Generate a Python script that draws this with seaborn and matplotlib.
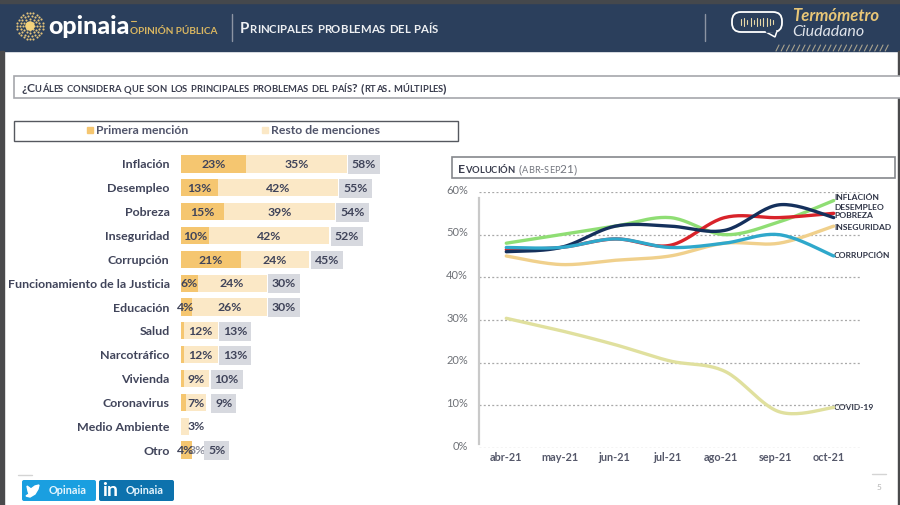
import numpy as np
import pandas as pd
import matplotlib
matplotlib.use("Agg")
import matplotlib.pyplot as plt
import seaborn as sns
from matplotlib.patches import Rectangle, FancyBboxPatch, Polygon, Circle
from matplotlib.transforms import ScaledTranslation

categories = ["Inflación", "Desempleo", "Pobreza", "Inseguridad", "Corrupción",
              "Funcionamiento de la Justicia", "Educación", "Salud", "Narcotráfico",
              "Vivienda", "Coronavirus", "Medio Ambiente", "Otro"]
primera = [23, 13, 15, 10, 21, 6, 4, 1, 1, 1, 2, 0, 4]
resto = [35, 42, 39, 42, 24, 24, 26, 12, 12, 9, 7, 3, 0]
total = [58, 55, 54, 52, 45, 30, 30, 13, 13, 10, 9, None, 5]
label_primera = ["23%", "13%", "15%", "10%", "21%", "6%", "4%", "", "", "", "", "", "4%"]
label_resto = ["35%", "42%", "39%", "42%", "24%", "24%", "26%", "12%", "12%", "9%", "7%", "3%", "3%"]

months = ["abr-21", "may-21", "jun-21", "jul-21", "ago-21", "sep-21", "oct-21"]
inseguridad = [45, 43, 44, 45, 48, 48, 52]
covid = [30.4, 27.5, 24.2, 20.4, 18, 8.5, 9.5]
inflacion = [48, 50, 52, 54, 50, 53, 58]
desempleo = [46.5, 47, 49, 47.5, 54, 54, 55]
pobreza = [46, 47, 52, 52, 51, 57, 54]
corrupcion = [47, 47, 49, 47, 48, 50, 45]

end_labels = ["INFLACIÓN", "DESEMPLEO", "POBREZA", "INSEGURIDAD", "CORRUPCIÓN", "COVID-19"]
end_label_y = [197, 208, 216, 228, 255, 407]

NAVY = "#2b3f5c"
GOLD = "#f5c670"
PALE = "#fbe8c6"
GREY = "#d7d9df"
TEXT = "#40445a"
FONT = "Lato"

sns.set_theme(style="white")
plt.rcParams["font.family"] = [FONT, "DejaVu Sans"]

W, H = 900, 505
fig = plt.figure(figsize=(9, 5.05), dpi=100, facecolor="white")


def pixel_axes(x0, y0, x1, y1, **kw):
    # axes placed by pixel box, y counted from the top
    return fig.add_axes([x0 / W, 1 - y1 / H, (x1 - x0) / W, (y1 - y0) / H], **kw)


# page layer in pixels
bg = pixel_axes(0, 0, W, H, zorder=0)
bg.set_xlim(0, W)
bg.set_ylim(H, 0)
bg.axis("off")


def smallcaps(x, y, s, size, color, weight="bold"):
    # upper case letters big, lower case ones as smaller capitals
    r = fig.canvas.get_renderer()
    for ch in s:
        small = ch.islower()
        t = bg.text(x, y, ch.upper(), fontsize=size * (0.76 if small else 1), color=color,
                    fontweight=weight, va="baseline", ha="left")
        if ch == " ":
            x += size * 0.36
        else:
            x += t.get_window_extent(r).width
    return x


# header
bg.add_patch(Rectangle((0, 0), W, 51, color=NAVY))
bg.add_patch(Rectangle((0, 0), W, 3, color="#45484c"))
bg.add_patch(Rectangle((0, 51), 4, H, color="#4a4a4c"))
bg.add_patch(Rectangle((898, 51), 2, H, color="#4a4a4c"))

# logo sun
for r, n in zip([4, 7, 10, 13], [8, 12, 18, 24]):
    a = np.arange(n) * 2 * np.pi / n
    bg.scatter(30 + r * np.cos(a), 26 + r * np.sin(a), s=2.4, color="#e2c27a", lw=0)
bg.add_patch(Circle((30, 26), 4, color="#f3d27c"))
bg.text(48, 34.5, "opinaia", fontsize=18, fontweight=900, color="white", va="baseline")
bg.text(130, 33.5, "OPINIÓN PÚBLICA", fontsize=7.2, fontweight="bold", color="#d9b661", va="baseline")
bg.plot([131, 136], [21, 21], color="#d9b661", lw=0.8)
bg.plot([232, 232], [14, 41], color="#8c94a3", lw=1)
smallcaps(240, 33, "Principales problemas del país", 10.8, "#eef0f3")
bg.plot([705, 705], [14, 41], color="#8c94a3", lw=1)

# termometro icon
bg.add_patch(FancyBboxPatch((732, 12), 50, 20, boxstyle="round,pad=0,rounding_size=9",
                            fc="none", ec="white", lw=1.3))
bg.add_patch(Polygon([[766, 32], [777, 31], [775, 37]], fc=NAVY, ec="white", lw=1.1))
bg.plot([767, 775], [31.5, 31], color=NAVY, lw=2)
for x, h in zip(np.arange(741, 775, 3.2), [3, 4, 2, 4, 2, 4, 3, 4, 4, 3, 2]):
    bg.plot([x, x], [22 - h, 22 + h], color="#e8d9a8", lw=0.8)
bg.text(792, 21, "Termómetro", fontsize=12, fontweight="bold", style="italic", color="#e8c677", va="baseline")
bg.text(792, 36, "Ciudadano", fontsize=11.5, style="italic", color="#dfe3ea", va="baseline")
for x in np.arange(776, 886, 5.2):
    bg.plot([x, x + 3], [51, 45], color="#a8a28e", lw=0.8)

# question and legend boxes
bg.add_patch(Rectangle((14, 76), 900, 22, fc="white", ec="#a5a7ab", lw=1.2))
smallcaps(21, 92, "¿Cuáles considera que son los principales problemas del país? (rtas. múltiples)", 8.85, "#3a3d4e")
bg.add_patch(Rectangle((14, 120.5), 444, 20, fc="white", ec="#55585f", lw=1))
bg.add_patch(Rectangle((87, 127), 6, 6, color=GOLD))
bg.text(96, 134.5, "Primera mención", fontsize=8.8, fontweight="bold", color="#50546a", va="baseline")
bg.add_patch(Rectangle((262, 127), 6, 6, color=PALE))
bg.text(271, 134.5, "Resto de menciones", fontsize=8.8, fontweight="bold", color="#50546a", va="baseline")

# evolution title box
bg.add_patch(Rectangle((452, 157), 443, 21, fc="white", ec="#85878c", lw=1.2))
x_end = smallcaps(458, 173, "Evolución", 8.9, "#3a3d4e")
smallcaps(x_end + 4, 173, "(abr-sep21)", 8.6, "#73767f", weight="normal")

# stacked bars
bars = pd.DataFrame({"cat": categories, "primera": primera, "resto": resto})
bars["suma"] = bars["primera"] + bars["resto"]
ax = pixel_axes(180.7, 152, 440, 462, zorder=2)
ax.patch.set_alpha(0)
sns.barplot(data=bars, y="cat", x="suma", color=PALE, saturation=1, width=0.72, linewidth=0, ax=ax)
sns.barplot(data=bars, y="cat", x="primera", color=GOLD, saturation=1, width=0.72, linewidth=0, ax=ax)
ax.set_xlim(0, 259.3 / 2.86)
ax.set_ylim(12.5, -0.5)
ax.set_xlabel("")
ax.set_ylabel("")
ax.set_xticks([])
ax.tick_params(axis="y", length=0, pad=8)
ax.set_yticks(range(len(categories)), categories, fontsize=8.9, fontweight="bold", color=TEXT)
sns.despine(ax=ax, left=True, bottom=True)

for i in range(len(categories)):
    # narrow bars push their labels off centre
    lab1_x = primera[i] / 2 if primera[i] >= 6 else 1.7
    if label_primera[i]:
        ax.text(lab1_x, i + 0.03, label_primera[i], ha="center", va="center",
                fontsize=8.8, fontweight="bold", color=TEXT)
    lab2_x = primera[i] + resto[i] / 2
    if categories[i] == "Medio Ambiente":
        lab2_x = 5.4
    if categories[i] == "Otro":
        lab2_x = 5.7
    ax.text(lab2_x, i + 0.03, label_resto[i], ha="center", va="center",
            fontsize=8.8, fontweight="bold", color=TEXT, alpha=0.6 if categories[i] == "Otro" else 1)
    if total[i] is not None:
        x_box = primera[i] + resto[i] + 1.1 if categories[i] != "Otro" else 7.6
        ax.text(x_box + 5, i + 0.03, f"{total[i]}%", ha="center", va="center",
                fontsize=8.8, fontweight="bold", color=TEXT,
                bbox=dict(boxstyle="square,pad=0.32", fc=GREY, ec="none"))

# evolution lines
line_colors = {"Inseguridad": "#f0d08c", "COVID-19": "#e0e09e", "Inflación": "#8fde74",
               "Desempleo": "#d8232a", "Pobreza": "#14305c", "Corrupción": "#2fa8cb"}
series = {"Inseguridad": inseguridad, "COVID-19": covid, "Inflación": inflacion,
          "Desempleo": desempleo, "Pobreza": pobreza, "Corrupción": corrupcion}
evo = pd.DataFrame(series, index=months).rename_axis("mes").reset_index()
evo = evo.melt(id_vars="mes", var_name="serie", value_name="valor")
ax2 = pixel_axes(479, 192, 861, 448, zorder=2)
ax2.patch.set_alpha(0)
sns.lineplot(data=evo, x="mes", y="valor", hue="serie", hue_order=list(series),
             palette=line_colors, sort=False, lw=2.4, legend=False, ax=ax2)


def smooth_line(line, n=24):
    # same look as a smoothed office chart line, runs through every monthly value
    xy = line.get_xydata()
    p = np.vstack([xy[0], xy, xy[-1]])
    out = []
    for i in range(1, len(p) - 2):
        for t in np.linspace(0, 1, n, endpoint=False):
            out.append(0.5 * (2 * p[i] + (p[i + 1] - p[i - 1]) * t
                              + (2 * p[i - 1] - 5 * p[i] + 4 * p[i + 1] - p[i + 2]) * t ** 2
                              + (3 * p[i] - p[i - 1] - 3 * p[i + 1] + p[i + 2]) * t ** 3))
    out.append(xy[-1])
    out = np.array(out)
    line.set_data(out[:, 0], out[:, 1])


for ln in ax2.lines:
    ln.set_solid_capstyle("round")
    smooth_line(ln)

ax2.set_xlim(-0.5, 6.5)
ax2.set_ylim(0, 60)
ax2.set_xlabel("")
ax2.set_ylabel("")
ax2.set_yticks(range(0, 61, 10), [f"{v}%" for v in range(0, 61, 10)],
               fontsize=8, color="#6f7278")
ax2.set_xticks(np.arange(7) * 0.985, months, fontsize=7.8, fontweight="bold", color="#55586a")
ax2.tick_params(axis="both", length=0)
ax2.tick_params(axis="y", pad=8)
ax2.tick_params(axis="x", pad=3)
ax2.grid(axis="y", color="#a9a9a9", ls=(0, (1.6, 1.8)), lw=0.9)
ax2.set_axisbelow(True)
for label in ax2.get_yticklabels():
    label.set_transform(label.get_transform() + ScaledTranslation(0, 3 / 100, fig.dpi_scale_trans))
sns.despine(ax=ax2, bottom=True)
ax2.spines["left"].set_color("#c9c9c9")
ax2.spines["left"].set_linewidth(1.6)
ax2.spines["left"].set_bounds(1, 58.5)

for name, y in zip(end_labels, end_label_y):
    bg.text(834, y, name, fontsize=6.1, fontweight="bold", color="#2f3446", va="center", zorder=5)

# footer
bg.plot([18, 32], [475, 475], color="#d4d4d4", lw=1)
bg.plot([872, 886], [474, 474], color="#d4d4d4", lw=1)
bg.text(879, 487, "5", fontsize=6, color="#b5b5b5", ha="center", va="center")
bg.add_patch(FancyBboxPatch((22, 480), 74, 21, boxstyle="round,pad=0,rounding_size=2", fc="#1a9fe0", ec="none"))
bg.add_patch(FancyBboxPatch((99, 480), 75, 21, boxstyle="round,pad=0,rounding_size=2", fc="#0d72ad", ec="none"))
bg.add_patch(Polygon([[27, 486], [31, 489], [35, 486], [39, 485], [38, 489], [35, 494], [30, 497], [26, 496],
                      [29, 494], [28, 491]], color="white"))
bg.text(49, 491, "Opinaia", fontsize=7.8, fontweight="bold", color="#e6f5fd", va="center")
bg.text(102, 491, "in", fontsize=14, fontweight="bold", color="white", va="center")
bg.text(126, 491, "Opinaia", fontsize=7.8, fontweight="bold", color="#e6f5fd", va="center")

fig.savefig("out.png", dpi=100)
